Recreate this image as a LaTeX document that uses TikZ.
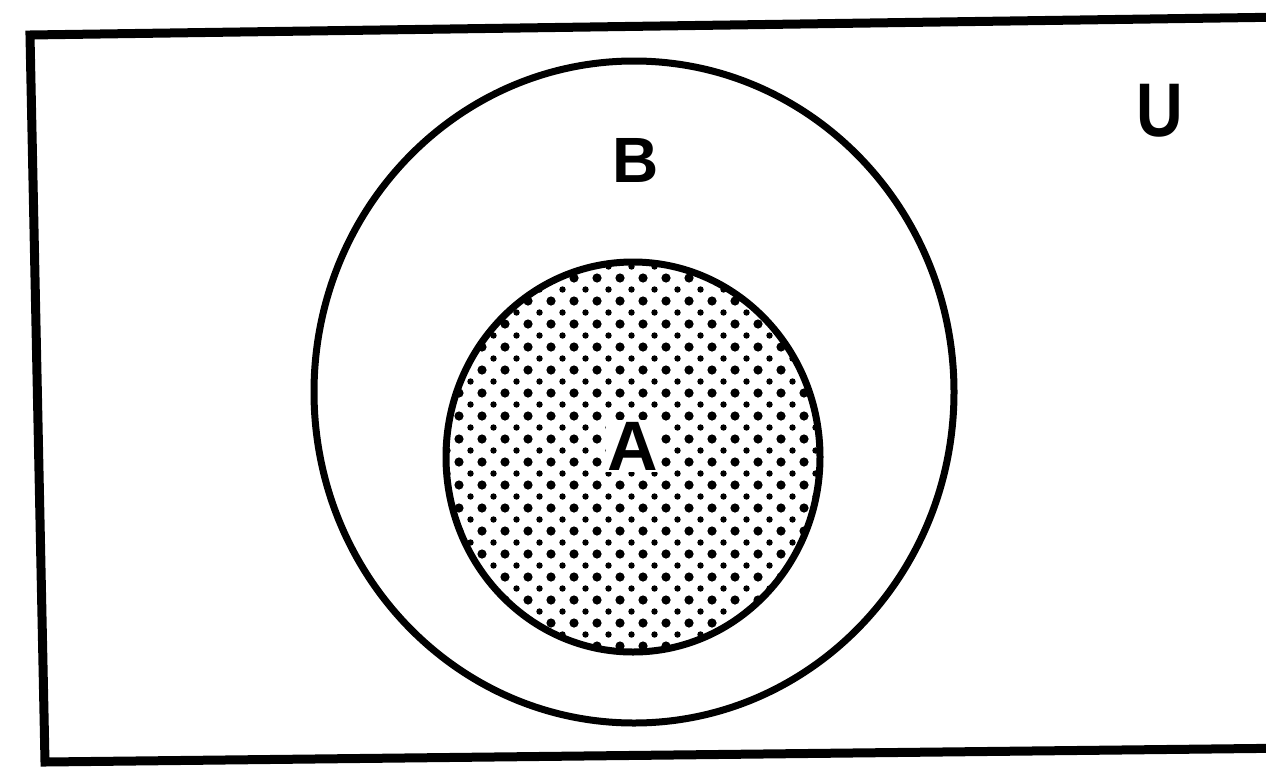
\documentclass[tikz,border=0pt]{standalone}
\usepackage{fontspec}
\setmainfont{Liberation Sans}
\usepackage{tikz}

\tikzset{
  setline/.style={line width=7pt},
  setlabel/.style={inner sep=0pt,font=\bfseries\fontsize{#1}{#1}\selectfont}
}

\begin{document}
\begin{tikzpicture}[x=1pt,y=-1pt]
  \useasboundingbox (0,0) rectangle (1266,769);
  \clip (0,0) rectangle (1266,769);
  \draw[line width=9pt] (30,35) -- (1290,17) -- (1300,748) -- (45,762) -- cycle;
  \begin{scope}
    \clip (633,457) ellipse (185 and 193);
    \foreach \r in {0,...,17}{
      \foreach \c in {0,...,17}{
        \fill ({436+23*\c},{255+23*\r}) circle (4.6);
        \fill ({447.5+23*\c},{266.5+23*\r}) circle (3.2);
      }
    }
  \end{scope}
  \draw[setline] (634,392) ellipse (320 and 331);
  \draw[setline] (633,457) ellipse (187 and 195);
  \node[setlabel=76,xscale=0.85] (labU) at (1160,111) {U};
  \node[setlabel=64] (labB) at (636,160) {B};
  \node[setlabel=70,fill=white,inner sep=2pt] (labA) at (633,446) {A};
\end{tikzpicture}
\end{document}
